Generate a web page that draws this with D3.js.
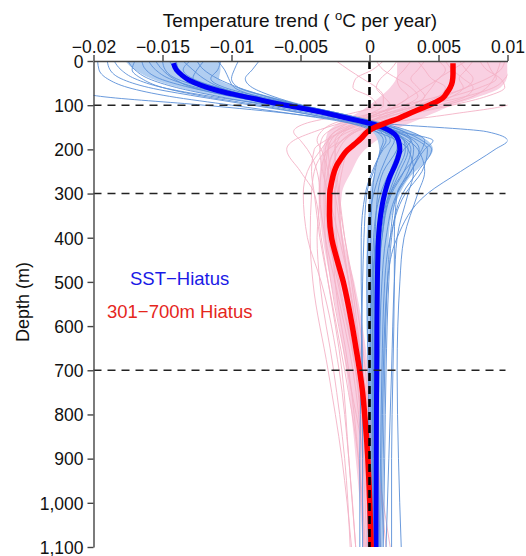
<!DOCTYPE html>
<html>
<head>
<meta charset="utf-8">
<script src="https://cdn.jsdelivr.net/npm/d3@7"></script>
<style>
html,body{margin:0;padding:0;background:#fff;}
svg{display:block;font-family:"Liberation Sans",Arial,Helvetica,sans-serif;}
</style>
</head>
<body>
<svg id="chart" width="526" height="556"></svg>
<script>
// ---------- DATA (values in 1e-3 °C per year) ----------
const xTickValues = [-0.02, -0.015, -0.01, -0.005, 0, 0.005, 0.01];
const xTickLabels = ["\u22120.02", "\u22120.015", "\u22120.01", "\u22120.005", "0", "0.005", "0.01"];
const yTickValues = [0, 100, 200, 300, 400, 500, 600, 700, 800, 900, 1000, 1100];
const yTickLabels = ["0", "100", "200", "300", "400", "500", "600", "700", "800", "900", "1,000", "1,100"];
const dashedDepths = [100, 300, 700];

const memberDepths = [0, 20, 40, 60, 80, 100, 120, 140, 160, 180, 200, 250, 300, 400, 500, 700, 900, 1100];

const blueMembers = [
  [-19.7, -19.6, -19.0, -17.5, -14.5, -10.0, -5.5, -1.5, 1.0, 2.0, 2.2, 1.8, 1.2, 0.6, 0.4, 0.3, 0.3, 0.3],
  [-19.0, -18.8, -18.0, -16.0, -12.5, -8.5, -4.5, -1.0, 1.3, 2.6, 3.0, 2.5, 1.6, 0.9, 0.6, 0.5, 0.5, 0.5],
  [-17.5, -17.0, -16.0, -14.0, -11.0, -7.5, -4.0, -0.5, 1.8, 3.2, 3.6, 3.0, 2.0, 1.2, 0.9, 0.7, 0.6, 0.6],
  [-16.5, -16.2, -15.2, -13.0, -10.0, -6.5, -3.0, 0.0, 2.0, 3.5, 4.2, 3.8, 2.6, 1.5, 1.1, 0.9, 0.8, 0.7],
  [-16.0, -15.5, -14.5, -12.5, -9.5, -6.0, -2.5, 0.5, 2.5, 3.8, 4.5, 3.5, 2.4, 1.6, 1.4, 1.2, 1.1, 1.0],
  [-15.0, -14.8, -14.0, -12.0, -9.0, -5.5, -2.5, 0.2, 1.8, 2.5, 2.6, 2.0, 1.4, 0.8, 0.5, 0.3, 0.2, 0.2],
  [-14.5, -14.0, -13.0, -11.5, -8.5, -5.0, -2.0, 0.8, 3.0, 4.0, 3.8, 2.5, 1.5, 0.6, 0.2, 0.0, -0.1, -0.1],
  [-13.0, -13.5, -12.8, -11.0, -8.5, -5.5, -2.8, -0.5, 1.2, 2.0, 2.0, 1.5, 1.0, 0.5, 0.3, 0.2, 0.2, 0.2],
  [-12.0, -12.5, -12.8, -11.5, -9.0, -6.0, -3.0, -0.5, 1.0, 1.8, 1.5, 0.8, 0.3, -0.1, -0.2, -0.1, 0.0, 0.0],
  [-10.8, -11.0, -11.5, -10.5, -8.0, -5.0, -2.0, 0.5, 2.0, 3.0, 3.2, 2.8, 2.0, 1.5, 1.3, 1.1, 1.0, 0.9],
  [-9.5, -9.8, -10.0, -9.5, -7.5, -5.0, -2.5, -0.5, 1.0, 1.5, 1.0, 0.2, -0.3, -0.6, -0.6, -0.5, -0.5, -0.5],
  [-8.0, -8.5, -9.0, -8.5, -7.0, -5.0, -3.0, -1.0, 0.5, 1.0, 0.8, 0.4, 0.2, 0.1, 0.1, 0.1, 0.1, 0.1],
  [-17.0, -17.2, -16.5, -15.0, -12.0, -8.0, -4.5, -1.5, 0.5, 2.0, 2.8, 3.2, 2.8, 2.0, 1.8, 1.6, 1.4, 1.2],
  [-14.0, -13.8, -13.0, -11.0, -8.5, -5.5, -2.5, 0.5, 8.5, 10.0, 9.1, 6.6, 4.2, 2.0, 1.3, 1.0, 0.9, 0.8],
  [-12.5, -12.0, -11.0, -9.5, -7.5, -5.0, -2.0, 0.5, 2.5, 3.0, 2.5, 1.5, 0.8, 0.3, 0.2, 0.2, 0.2, 0.2],
  [-18.5, -18.0, -17.0, -15.0, -11.5, -7.0, -3.5, -0.8, 1.5, 2.8, 3.5, 4.0, 3.5, 2.5, 2.2, 2.0, 2.1, 2.3],
  [-25.0, -25.0, -24.0, -22.0, -19.5, -12.0, -5.5, -1.0, 1.5, 2.5, 2.8, 2.2, 1.5, 0.9, 0.7, 0.5, 0.4, 0.4],
  [-15.5, -15.0, -14.2, -12.8, -10.0, -6.2, -3.0, 0.0, 2.2, 4.6, 4.0, 3.0, 2.0, 1.8, 1.8, 1.7, 1.6, 1.6],
  [-13.5, -12.8, -12.0, -10.8, -8.8, -5.8, -3.2, -0.8, 0.8, 1.2, 0.9, 0.3, -0.2, -0.4, -0.5, -0.6, -0.7, -0.7],
  [-11.0, -10.5, -10.2, -9.8, -8.2, -5.8, -3.0, -0.2, 1.6, 2.2, 2.0, 1.0, 0.6, 0.4, 0.3, 0.4, 0.5, 0.6]
];

const pinkMembers = [
  [9.5, 9.3, 9.0, 8.5, 7.5, 5.5, 3.0, 0.5, -1.0, -1.8, -2.2, -2.8, -3.0, -2.9, -2.3, -1.0, -0.3, 0.0],
  [8.5, 8.8, 9.2, 8.0, 6.0, 3.5, 1.5, 0.0, -1.2, -2.0, -2.5, -3.0, -3.2, -3.0, -2.0, -0.8, -0.2, 0.1],
  [7.5, 7.0, 6.5, 6.8, 6.0, 4.5, 2.5, 0.5, -1.5, -2.5, -3.0, -3.5, -3.6, -3.2, -2.5, -1.2, -0.5, -0.2],
  [6.5, 7.0, 7.5, 7.0, 5.0, 2.5, 0.5, -1.0, -2.5, -3.0, -3.2, -3.3, -3.0, -2.5, -2.0, -1.0, -0.4, 0.0],
  [5.0, 5.5, 5.0, 4.0, 3.0, 2.0, 1.0, 0.0, -1.0, -2.0, -3.0, -4.0, -4.2, -4.3, -4.1, -3.0, -2.0, -1.3],
  [4.0, 3.5, 3.0, 3.5, 4.0, 3.0, 1.0, -1.5, -3.0, -3.5, -3.6, -3.4, -3.0, -2.2, -1.5, -0.6, 0.0, 0.3],
  [3.0, 2.5, 2.0, 2.2, 2.8, 2.0, 0.5, -1.0, -2.0, -2.5, -2.5, -2.4, -2.2, -1.8, -1.3, -0.5, 0.3, 0.8],
  [2.0, 1.5, 0.8, 0.5, 1.0, 1.5, 0.5, -2.0, -4.0, -5.5, -6.0, -5.0, -4.0, -3.5, -3.0, -2.0, -1.5, -1.0],
  [-2.4, -1.5, -0.5, 0.5, 1.0, 1.0, 0.0, -1.5, -2.5, -3.0, -3.0, -2.8, -2.5, -2.0, -1.5, -0.5, 0.5, 1.2],
  [9.8, 9.5, 8.5, 7.0, 5.5, 4.0, 2.5, 1.0, 0.0, -0.8, -1.5, -2.2, -2.5, -2.4, -1.8, -0.6, 0.3, 0.6],
  [7.0, 6.0, 5.0, 4.5, 4.0, 3.5, 2.0, 0.0, -2.0, -3.2, -4.0, -4.2, -4.0, -3.6, -3.0, -1.8, -0.8, -0.3],
  [5.5, 6.0, 6.8, 7.5, 7.0, 5.0, 2.0, -0.5, -1.8, -2.3, -2.5, -2.5, -2.3, -1.8, -1.2, -0.3, 0.2, 0.4],
  [0.5, 1.0, 2.0, 3.0, 3.5, 2.5, 0.0, -2.5, -3.5, -3.8, -3.5, -3.0, -2.8, -2.7, -2.5, -1.5, -0.8, -0.4],
  [8.0, 8.5, 9.5, 9.8, 8.5, 6.0, 3.0, 0.5, -0.5, -1.0, -1.5, -2.0, -2.2, -2.0, -1.5, -0.5, 0.5, 1.5],
  [3.5, 4.0, 4.5, 5.5, 5.0, 3.5, 1.5, -0.5, -2.0, -3.0, -3.5, -4.5, -4.8, -4.5, -3.5, -2.2, -1.5, -1.0],
  [12.0, 12.0, 12.0, 11.5, 11.0, 10.0, 6.0, 1.5, -1.0, -2.0, -2.5, -3.0, -3.0, -2.8, -2.2, -1.0, -0.2, 0.3],
  [1.0, 0.2, -1.0, -1.2, 0.0, 0.5, -1.5, -4.5, -5.5, -5.0, -4.5, -3.8, -3.6, -3.8, -3.6, -2.6, -1.8, -1.4],
  [10.5, 10.2, 9.8, 9.0, 7.0, 4.0, 1.0, -0.8, -2.2, -2.8, -3.0, -3.2, -3.3, -3.2, -2.8, -1.6, -0.4, 0.2]
];

const blueBandDepth = [0, 20, 40, 60, 80, 100, 120, 140, 160, 180, 200, 230, 260, 300, 350, 400, 500, 600, 700, 800, 900, 1000, 1100];
const blueBandLo = [-17.7, -17.0, -15.8, -13.8, -11.0, -7.2, -3.8, -1.0, 0.2, 0.6, 0.7, 0.6, 0.3, 0.0, -0.1, -0.2, -0.2, -0.2, -0.1, 0.0, 0.1, 0.15, 0.2];
const blueBandHi = [-10.8, -10.8, -10.9, -9.5, -7.2, -4.6, -2.2, 0.6, 3.0, 4.2, 4.6, 4.0, 3.0, 2.2, 1.6, 1.4, 1.3, 1.2, 1.1, 1.0, 0.9, 0.85, 0.8];

const pinkBandDepth = [0, 30, 60, 80, 100, 120, 140, 160, 180, 200, 250, 300, 350, 400, 500, 600, 700, 800, 900, 1000, 1100];
const pinkBandLo = [2.0, 2.0, 1.5, 0.8, 0.0, -1.0, -2.2, -3.0, -3.2, -3.4, -3.6, -3.7, -3.6, -3.4, -2.8, -2.2, -1.7, -1.3, -1.0, -0.7, -0.5];
const pinkBandHi = [10.0, 10.0, 9.5, 8.0, 6.0, 4.5, 3.0, 1.5, 0.5, -0.3, -1.3, -2.0, -2.1, -1.9, -1.1, -0.5, -0.1, 0.1, 0.25, 0.35, 0.4];

const sstDepth = [5, 20, 32, 43, 55, 65, 75, 85, 95, 105, 115, 125, 135, 145, 155, 165, 180, 200, 220, 240, 260, 300, 350, 400, 500, 600, 700, 800, 900, 1000, 1100];
const sstMean = [-14.2, -14.0, -13.6, -13.1, -12.2, -11.2, -9.9, -8.4, -6.9, -5.2, -3.6, -2.2, -0.8, 0.5, 1.3, 1.8, 2.1, 2.2, 2.05, 1.8, 1.5, 1.1, 0.8, 0.65, 0.57, 0.54, 0.52, 0.5, 0.49, 0.48, 0.47];

const midDepth = [5, 30, 47, 60, 72, 84, 93, 103, 112, 122, 130, 140, 150, 160, 175, 190, 205, 220, 235, 250, 275, 300, 350, 400, 450, 500, 550, 600, 650, 700, 750, 800, 850, 900, 1000, 1100];
const midMean = [6.05, 6.05, 6.0, 5.85, 5.6, 5.3, 4.8, 4.1, 3.4, 2.66, 2.1, 1.2, 0.4, -0.15, -0.6, -1.15, -1.7, -2.05, -2.35, -2.55, -2.75, -2.88, -2.9, -2.75, -2.35, -1.9, -1.55, -1.25, -0.98, -0.72, -0.5, -0.35, -0.22, -0.12, 0.02, 0.12];

const legendLabels = ["SST\u2212Hiatus", "301\u2212700m Hiatus"];

// ---------- CHART ----------
const svg = d3.select("#chart");
const pLeft = 93.5, pRight = 507.5, pTop = 61, pBottom = 547;
const x = d3.scaleLinear().domain([-0.02, 0.01]).range([pLeft, pRight]);
const y = d3.scaleLinear().domain([0, 1100]).range([pTop, pBottom]);
const k = 1e-3;

svg.append("defs").append("clipPath").attr("id", "plotclip")
  .append("rect").attr("x", pLeft).attr("y", pTop).attr("width", pRight - pLeft).attr("height", pBottom - pTop);

const plot = svg.append("g").attr("clip-path", "url(#plotclip)");

const area = d3.area()
  .y(d => y(d[0])).x0(d => x(d[1] * k)).x1(d => x(d[2] * k))
  .curve(d3.curveMonotoneY);
const line = d3.line()
  .x(d => x(d[1] * k)).y(d => y(d[0]))
  .curve(d3.curveMonotoneY);

// bands
plot.append("path")
  .datum(pinkBandDepth.map((d, i) => [d, pinkBandLo[i], pinkBandHi[i]]))
  .attr("d", area).attr("fill", "#f9d0e2").attr("stroke", "none");
plot.append("path")
  .datum(blueBandDepth.map((d, i) => [d, blueBandLo[i], blueBandHi[i]]))
  .attr("d", area).attr("fill", "#a9c9ef").attr("fill-opacity", 0.9).attr("stroke", "none");

// thin members
plot.append("g").selectAll("path").data(pinkMembers).join("path")
  .attr("d", vals => line(memberDepths.map((d, i) => [d, vals[i]])))
  .attr("fill", "none").attr("stroke", "#f4b2c6").attr("stroke-width", 0.9);
plot.append("g").selectAll("path").data(blueMembers).join("path")
  .attr("d", vals => line(memberDepths.map((d, i) => [d, vals[i]])))
  .attr("fill", "none").attr("stroke", "#5a8ed8").attr("stroke-width", 0.9);

// mean lines
plot.append("path")
  .datum(sstDepth.map((d, i) => [d, sstMean[i]]))
  .attr("d", line).attr("fill", "none").attr("stroke", "#0000f5")
  .attr("stroke-width", 5).attr("stroke-linecap", "butt");
plot.append("path")
  .datum(midDepth.map((d, i) => [d, midMean[i]]))
  .attr("d", line).attr("fill", "none").attr("stroke", "#ff0000")
  .attr("stroke-width", 5.5).attr("stroke-linecap", "butt");

// dashed reference lines
svg.append("g").selectAll("line").data(dashedDepths).join("line")
  .attr("x1", x(-0.02)).attr("x2", x(0.01) - 2)
  .attr("y1", d => y(d)).attr("y2", d => y(d))
  .attr("stroke", "#222").attr("stroke-width", 1.4).attr("stroke-dasharray", "8,6");
svg.append("line")
  .attr("x1", x(0)).attr("x2", x(0)).attr("y1", y(0)).attr("y2", y(1100))
  .attr("stroke", "#000").attr("stroke-width", 2.6).attr("stroke-dasharray", "8,5");

// axes
const xAxis = d3.axisTop(x).tickValues(xTickValues)
  .tickFormat((d, i) => xTickLabels[i]).tickSize(6).tickSizeOuter(0).tickPadding(2);
const gx = svg.append("g").attr("transform", `translate(0,${pTop})`).call(xAxis);
const yAxis = d3.axisLeft(y).tickValues(yTickValues)
  .tickFormat((d, i) => yTickLabels[i]).tickSize(6).tickSizeOuter(0).tickPadding(4);
const gy = svg.append("g").attr("transform", `translate(${pLeft},0)`).call(yAxis);
[gx, gy].forEach(g => {
  g.attr("font-family", "'Liberation Sans', Arial, sans-serif").attr("font-size", 17.5);
  g.selectAll("path.domain").attr("stroke", "#444").attr("stroke-width", 1.4);
  g.selectAll(".tick line").attr("stroke", "#444").attr("stroke-width", 1.4);
  g.selectAll(".tick text").attr("fill", "#111");
});
gy.selectAll(".tick text").attr("dy", "0.36em");

// titles
const title = svg.append("text").attr("x", 300).attr("y", 27)
  .attr("text-anchor", "middle").attr("font-size", 19).attr("fill", "#111");
title.append("tspan").text("Temperature trend ( ");
title.append("tspan").attr("font-size", 13).attr("dy", -7).text("o");
title.append("tspan").attr("dy", 7).text("C per year)");

svg.append("text").attr("transform", "translate(29,302) rotate(-90)")
  .attr("text-anchor", "middle").attr("font-size", 18).attr("fill", "#111").text("Depth (m)");

// legend labels
svg.append("text").attr("x", 130).attr("y", 285).attr("font-size", 18.5)
  .attr("fill", "#1a1ae6").text(legendLabels[0]);
svg.append("text").attr("x", 107).attr("y", 318).attr("font-size", 18.5)
  .attr("fill", "#e5261c").text(legendLabels[1]);
</script>
</body>
</html>
